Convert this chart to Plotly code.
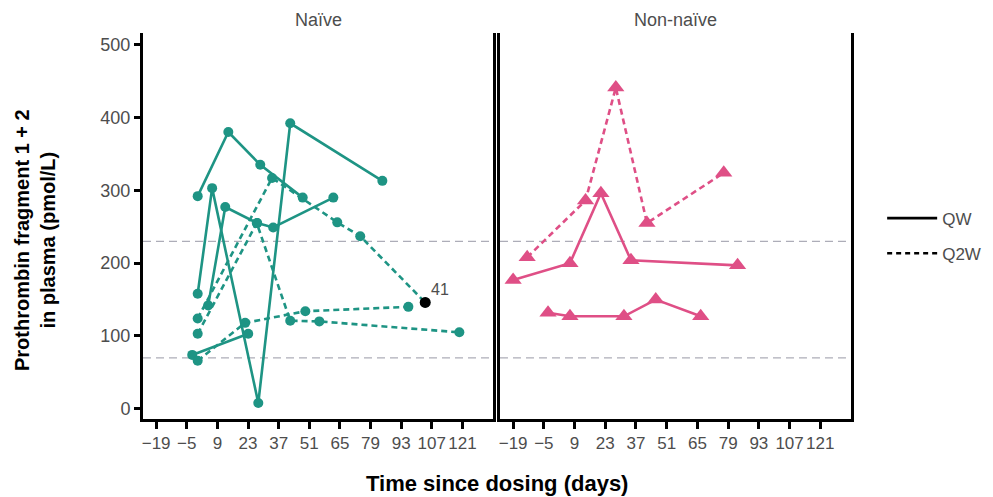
import plotly.graph_objects as go

# ---------------- data ----------------
tick_vals = [-19, -5, 9, 23, 37, 51, 65, 79, 93, 107, 121]
tick_text = ["\u221219", "\u22125", "9", "23", "37", "51", "65", "79", "93", "107", "121"]
y_ticks = [0, 100, 200, 300, 400, 500]
ref_lines = [70, 230]

# Naïve, QW (solid)
n_qw1_days = [0, 14, 28.6, 48]
n_qw1_vals = [292, 380, 335, 290]
n_qw2_days = [0, 6.6, 27.7, 42.3, 84.4]
n_qw2_vals = [158, 303, 8, 392, 313]
n_qw3_days = [4.8, 12.6, 27.2, 34.5, 62]
n_qw3_vals = [142, 277, 255, 249, 290]
n_qw4_days = [-2.5, 23.1]
n_qw4_vals = [74, 103]

# Naïve, Q2W (dashed)
n_q2w1_days = [0, 34, 63.8, 74.3, 104]
n_q2w1_vals = [124, 317, 256, 237, 146]
n_q2w2_days = [0, 27, 42.3, 55.6, 119.6]
n_q2w2_vals = [103, 255, 121, 120, 105]
n_q2w3_days = [0, 21.7, 49.2, 96.3]
n_q2w3_vals = [66, 118, 134, 140]

# highlighted point (patient 41)
flag_day = 104
flag_val = 146
flag_label = "41"

# Non-naïve
nn_qw1_days = [-19, 6.9, 21, 34.7, 83.3]
nn_qw1_vals = [177, 200, 296, 204, 197]
nn_qw2_days = [-3.1, 6.9, 31.5, 46, 66.5]
nn_qw2_vals = [132, 127, 127, 150, 127]
nn_q2w1_days = [-12.6, 14, 27.8, 42, 77]
nn_q2w1_vals = [208, 286, 441, 255, 324]

TEAL = "#1E9484"
PINK = "#DF4F86"
DASH = "6px,4px"
FONT = "Liberation Sans, Arial, sans-serif"

fig = go.Figure()

def add_series(days, vals, color, dash, symbol, size, xa, ya):
    fig.add_trace(go.Scatter(
        x=days, y=vals, mode="lines+markers",
        line=dict(color=color, width=2.6, dash=dash),
        marker=dict(color=color, symbol=symbol, size=size),
        xaxis=xa, yaxis=ya, showlegend=False, hoverinfo="x+y"))

for d, v in [(n_qw1_days, n_qw1_vals), (n_qw2_days, n_qw2_vals),
             (n_qw3_days, n_qw3_vals), (n_qw4_days, n_qw4_vals)]:
    add_series(d, v, TEAL, "solid", "circle", 10, "x", "y")
for d, v in [(n_q2w1_days, n_q2w1_vals), (n_q2w2_days, n_q2w2_vals),
             (n_q2w3_days, n_q2w3_vals)]:
    add_series(d, v, TEAL, DASH, "circle", 10, "x", "y")

# black flagged point
fig.add_trace(go.Scatter(x=[flag_day], y=[flag_val], mode="markers",
                         marker=dict(color="black", size=11),
                         xaxis="x", yaxis="y", showlegend=False))
fig.add_annotation(x=flag_day, y=flag_val, xref="x", yref="y", text=flag_label,
                   showarrow=False, xanchor="left", yanchor="bottom",
                   xshift=4, yshift=2,
                   font=dict(family=FONT, size=16, color="#4D4D4D"))

for d, v in [(nn_qw1_days, nn_qw1_vals), (nn_qw2_days, nn_qw2_vals)]:
    add_series(d, v, PINK, "solid", "triangle-up", 15, "x2", "y2")
add_series(nn_q2w1_days, nn_q2w1_vals, PINK, DASH, "triangle-up", 15, "x2", "y2")

# legend dummies
fig.add_trace(go.Scatter(x=[None], y=[None], mode="lines", name="QW", legendgroup="a",
                         line=dict(color="black", width=2.6)))
fig.add_trace(go.Scatter(x=[None], y=[None], mode="lines", name="Q2W", legendgroup="b",
                         line=dict(color="black", width=2.6, dash="5px,4px")))

# reference lines
for xa_dom, ya in [("x domain", "y"), ("x2 domain", "y2")]:
    for r in ref_lines:
        fig.add_shape(type="line", xref=xa_dom, yref=ya, x0=0, x1=1, y0=r, y1=r,
                      line=dict(color="#ADADB8", width=1.3, dash="8px,5px"), layer="below")

xtickfont = dict(family=FONT, size=17, color="#4D4D4D")
ytickfont = dict(family=FONT, size=18, color="#4D4D4D")
xcommon = dict(range=[-25, 135], tickvals=tick_vals, ticktext=tick_text, tickangle=0,
               showline=True, linecolor="black", linewidth=3,
               ticks="outside", ticklen=7, tickwidth=2.5, tickcolor="black",
               showgrid=False, zeroline=False, tickfont=xtickfont, automargin=False)
ycommon = dict(range=[-14, 516], tickvals=y_ticks,
               showline=True, linecolor="black", linewidth=3, mirror=True,
               showgrid=False, zeroline=False, tickfont=ytickfont, automargin=False)

# the page body adds an 8px offset, so the figure is drawn 8px smaller
fig.update_layout(
    width=985, height=489,
    margin=dict(l=135, r=142, t=25, b=78, autoexpand=False),
    paper_bgcolor="white", plot_bgcolor="white",
    font=dict(family=FONT, color="#4D4D4D"),
    xaxis=dict(domain=[0, 0.4944], anchor="y", **xcommon),
    xaxis2=dict(domain=[0.5042, 1], anchor="y2", **xcommon),
    yaxis=dict(domain=[0, 1], anchor="x", ticks="outside", ticklen=6, tickwidth=2.5,
               tickcolor="black", **ycommon),
    yaxis2=dict(domain=[0, 1], anchor="x2", showticklabels=False, ticks="", **ycommon),
    legend=dict(x=1.044, y=0.474, xanchor="left", yanchor="middle",
                font=dict(family=FONT, size=17, color="#4D4D4D"),
                itemwidth=50, tracegroupgap=10, traceorder="grouped",
                bgcolor="rgba(0,0,0,0)"),
    showlegend=True,
)

fig.add_annotation(x=-0.1525, y=0.4637, xref="paper", yref="paper",
                   xanchor="center", yanchor="middle", textangle=-90,
                   text="<b>Prothrombin fragment 1 + 2<br>in plasma (pmol/L)</b>",
                   showarrow=False,
                   font=dict(family=FONT, size=20, color="black"))
fig.add_annotation(x=0.5, y=-0.166, xref="paper", yref="paper",
                   xanchor="center", yanchor="middle",
                   text="<b>Time since dosing (days)</b>", showarrow=False,
                   font=dict(family=FONT, size=22, color="black"))
fig.add_annotation(x=0.2472, y=1.0, xref="paper", yref="paper",
                   xanchor="center", yanchor="middle", yshift=13,
                   text="Naïve", showarrow=False,
                   font=dict(family=FONT, size=18, color="#4D4D4D"))
fig.add_annotation(x=0.7521, y=1.0, xref="paper", yref="paper",
                   xanchor="center", yanchor="middle", yshift=13,
                   text="Non-naïve", showarrow=False,
                   font=dict(family=FONT, size=18, color="#4D4D4D"))

fig.write_html("out.html")
